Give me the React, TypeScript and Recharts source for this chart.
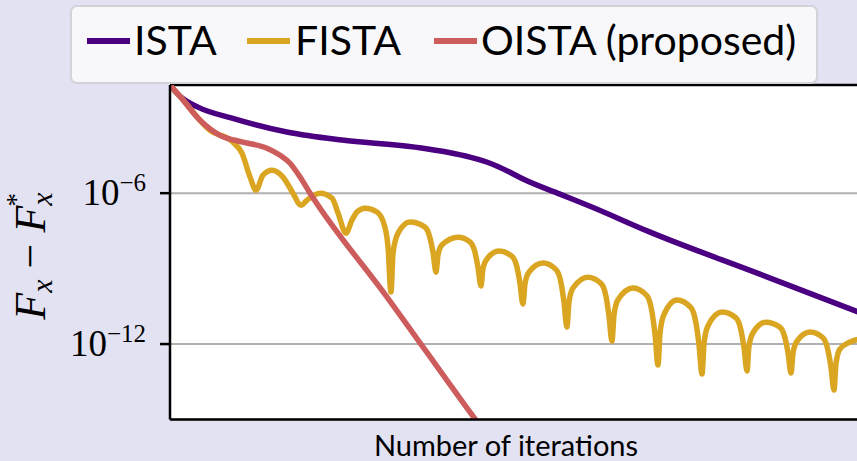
import { LineChart, Line, XAxis, YAxis, CartesianGrid, ReferenceLine } from "recharts";

// iteration index and log10(F_x - F_x^*) for each solver
const istaIter = [0, 5.8, 16.2, 35.9, 68.4, 99.7, 142.0, 173.9, 185.5, 197.1, 205.0, 226.1, 243.5, 278.3, 342.0, 400];
const istaLog = [-1.71, -2.15, -2.58, -3.02, -3.58, -3.89, -4.17, -4.57, -4.81, -5.17, -5.45, -6.04, -6.52, -7.55, -9.22, -10.75];

const fistaIter = [
  0, 5.8, 23.2, 36.5, 41.7, 46.4, 49.9, 53.9, 59.1, 65.5, 71.3, 75.9, 79.4, 87.0, 93.9, 97.4, 102.0, 105.5, 108.4,
  113.0, 120.0, 124.6, 126.4, 128.1, 129.3, 132.2, 139.1, 147.8, 150.7, 152.5, 154.2, 155.4, 157.7, 167.0, 173.9,
  176.8, 178.5, 180.3, 181.4, 183.8, 190.7, 198.3, 201.2, 202.9, 204.6, 205.8, 208.1, 216.2, 223.8, 226.7, 228.4,
  230.1, 231.3, 233.6, 242.3, 249.9, 252.8, 254.5, 256.2, 257.4, 259.7, 268.4, 276.5, 279.4, 281.2, 282.9, 284.1,
  286.4, 293.9, 302.0, 304.9, 306.7, 308.4, 309.6, 311.9, 320.0, 328.1, 331.0, 332.8, 334.5, 335.6, 338.0, 345.5,
  353.6, 356.5, 358.3, 360.0, 361.2, 363.5, 371.0, 378.5, 381.4, 383.2, 384.9, 386.1, 388.4, 394.2, 400,
];
const fistaLog = [
  -1.71, -2.15, -3.5, -3.97, -4.41, -5.36, -5.88, -5.28, -5.09, -5.36, -6.0, -6.48, -6.28, -6.0, -6.2, -6.79, -7.59,
  -7.07, -6.75, -6.6, -6.75, -7.35, -8.15, -9.93, -8.38, -7.59, -7.15, -7.35, -7.77, -8.36, -9.14, -8.44, -8.05,
  -7.75, -7.94, -8.35, -8.94, -9.69, -9.0, -8.61, -8.3, -8.51, -8.96, -9.59, -10.41, -9.6, -9.14, -8.78, -9.04,
  -9.57, -10.33, -11.32, -10.33, -9.77, -9.34, -9.59, -10.12, -10.89, -11.88, -10.83, -10.24, -9.77, -10.08, -10.72,
  -11.64, -12.83, -11.54, -10.82, -10.25, -10.55, -11.16, -12.04, -13.19, -11.96, -11.27, -10.73, -10.96, -11.45,
  -12.16, -13.07, -12.1, -11.55, -11.13, -11.33, -11.75, -12.36, -13.15, -12.34, -11.88, -11.52, -11.75, -12.24,
  -12.93, -13.83, -12.77, -12.19, -11.92, -11.8,
];

const oistaIter = [0, 5.8, 17.4, 29.0, 42.3, 56.2, 63.8, 69.6, 75.4, 81.2, 125.8, 176.8, 190];
const oistaLog = [-1.71, -2.15, -3.1, -3.7, -3.97, -4.21, -4.49, -4.81, -5.36, -6.0, -10.13, -14.98, -16.2];

const yTicks = [1e-6, 1e-12];
const xGrid = [0, 100, 200, 300, 400];

const legendItems = [
  { name: "ISTA", color: "#4b0082", left: 15, textLeft: 62 },
  { name: "FISTA", color: "#daa520", left: 175, textLeft: 223 },
  { name: "OISTA (proposed)", color: "#cd5c5c", left: 362, textLeft: 409 },
];

const toPoints = (iters: number[], logs: number[]) =>
  iters.map((it, i) => ({ it, value: Math.pow(10, logs[i]) }));

const ista = toPoints(istaIter, istaLog);
const fista = toPoints(fistaIter, fistaLog);
const oista = toPoints(oistaIter, oistaLog);

const SERIF = "'Liberation Serif', 'DejaVu Serif', serif";
const SANS = "Lato, 'Open Sans', sans-serif";

const PowerTick = ({ x, y, payload }: any) => {
  const exp = Math.round(Math.log10(payload.value));
  return (
    <text x={x - 12} y={y + 12} textAnchor="end" fontFamily={SERIF} fontSize={37} fill="#000">
      10
      <tspan fontSize={25} dy={-14}>{`\u2212${-exp}`}</tspan>
    </text>
  );
};

const GapLabel = () => (
  <text x={45} y={256} transform="rotate(-90, 45, 256)" textAnchor="middle" fontFamily={SERIF} fontSize={44} fill="#000">
    <tspan fontStyle="italic">F</tspan>
    <tspan fontStyle="italic" fontSize={30} dy={7}>x</tspan>
    <tspan dy={-7}>{" \u2212 "}</tspan>
    <tspan fontStyle="italic">F</tspan>
    <tspan fontStyle="italic" fontSize={30} dy={7}>x</tspan>
    <tspan fontSize={27} dx={-14} dy={-27}>*</tspan>
  </text>
);

const Legend = () => (
  <div
    style={{
      position: "absolute",
      left: 70,
      top: 5,
      width: 744,
      height: 75,
      background: "#f8f8fb",
      border: "2px solid #d2d2d8",
      borderRadius: 7,
      zIndex: 2,
    }}
  >
    {legendItems.map((item) => (
      <div key={item.name}>
        <div
          style={{
            position: "absolute",
            left: item.left,
            top: 31,
            width: 43,
            height: 6,
            background: item.color,
          }}
        />
        <div
          style={{
            position: "absolute",
            left: item.textLeft,
            top: 8,
            fontFamily: SANS,
            fontSize: 41,
            lineHeight: "50px",
            color: "#000",
            whiteSpace: "nowrap",
          }}
        >
          {item.name}
        </div>
      </div>
    ))}
  </div>
);

export default function App() {
  return (
    <div
      style={{
        position: "fixed",
        left: 0,
        top: 0,
        width: 857,
        height: 461,
        overflow: "hidden",
        background: "#e2e2f3",
      }}
    >
      <Legend />
      <LineChart width={870} height={461} margin={{ top: 85, right: 10, bottom: 0, left: 0 }}>
        <CartesianGrid fill="#ffffff" stroke="#b0b0b0" strokeWidth={2} />
        <XAxis
          dataKey="it"
          type="number"
          domain={[0, 400]}
          ticks={xGrid}
          allowDataOverflow
          height={41.5}
          tick={false}
          tickLine={false}
          axisLine={{ stroke: "#000", strokeWidth: 2.5 }}
          label={{
            value: "Number of iterations",
            position: "insideBottom",
            offset: 5,
            dx: -9,
            fill: "#000",
            fontSize: 29,
            fontFamily: SANS,
          }}
        />
        <YAxis
          dataKey="value"
          scale="log"
          domain={[1e-15, 0.02]}
          allowDataOverflow
          ticks={yTicks}
          width={170}
          tickSize={10}
          tick={<PowerTick />}
          tickLine={{ stroke: "#000", strokeWidth: 2.5 }}
          axisLine={{ stroke: "#000", strokeWidth: 2.5 }}
          label={() => <GapLabel />}
        />
        <ReferenceLine y={0.02} stroke="#000" strokeWidth={2.5} />
        <Line data={ista} dataKey="value" type="monotone" stroke="#4b0082" strokeWidth={5.5} dot={false} isAnimationActive={false} />
        <Line data={fista} dataKey="value" type="monotone" stroke="#daa520" strokeWidth={5.5} dot={false} isAnimationActive={false} />
        <Line data={oista} dataKey="value" type="monotone" stroke="#cd5c5c" strokeWidth={5.5} dot={false} isAnimationActive={false} />
      </LineChart>
    </div>
  );
}
